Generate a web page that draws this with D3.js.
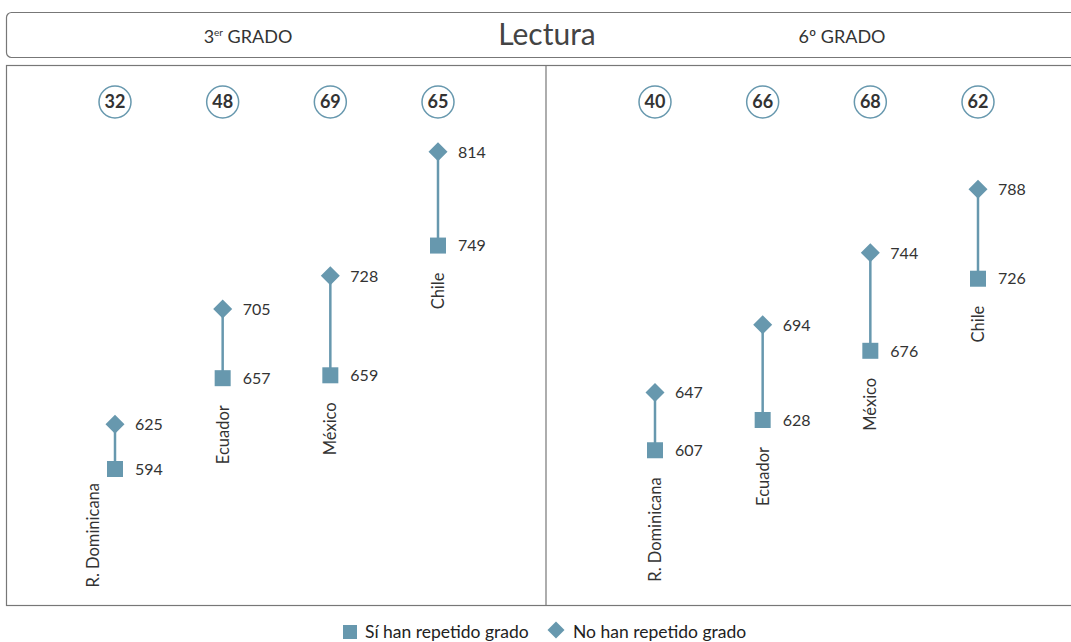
<!DOCTYPE html>
<html>
<head>
<meta charset="utf-8">
<script src="https://cdn.jsdelivr.net/npm/d3@7"></script>
<style>
  body { margin: 0; background: #fff; }
  svg { font-family: Lato, "Open Sans", sans-serif; }
</style>
</head>
<body>
<div id="chart"></div>
<script>
(function () {

    // data
    var countries = ["R. Dominicana", "Ecuador", "México", "Chile"];
    var grades = ["3er", "6º"];
    var circleValues3 = [32, 48, 69, 65];
    var circleValues6 = [40, 66, 68, 62];
    var repeated3 = [594, 657, 659, 749];      // Sí han repetido grado
    var notRepeated3 = [625, 705, 728, 814];   // No han repetido grado
    var repeated6 = [607, 628, 676, 726];
    var notRepeated6 = [647, 694, 744, 788];

    var panels = [
        { circles: circleValues3, yes: repeated3, no: notRepeated3 },
        { circles: circleValues6, yes: repeated6, no: notRepeated6 }
    ];

    var width = 1071;
    var height = 642;
    var colour = "#6798ae";
    var textColour = "#333";
    var frameColour = "#777";

    var panelLeft = 6;
    var panelWidth = 540;
    var panelTop = 65;
    var panelBottom = 605;

    var svg = d3.select("#chart")
        .append("svg")
        .attr("width", width)
        .attr("height", height);

    // header box
    svg.append("rect")
        .attr("x", panelLeft + 0.5).attr("y", 12.5)
        .attr("width", 1100).attr("height", 45)
        .attr("rx", 5)
        .attr("fill", "none")
        .attr("stroke", frameColour)
        .attr("stroke-width", 1.2);

    svg.append("text")
        .attr("x", 547).attr("y", 45)
        .attr("text-anchor", "middle")
        .attr("font-size", 30)
        .attr("fill", "#444")
        .text("Lectura");

    // grade titles
    var gradeText = svg.selectAll(".grade")
        .data(grades)
        .enter()
        .append("text")
        .attr("class", "grade")
        .attr("x", function (d, i) { return 248 + i * 594; })
        .attr("y", 43)
        .attr("text-anchor", "middle")
        .attr("font-size", 18)
        .attr("fill", textColour);

    gradeText.each(function (d) {
        var t = d3.select(this);
        if (d == "3er") {
            t.append("tspan").text("3");
            t.append("tspan").attr("font-size", 10).attr("dy", -7).text("er");
            t.append("tspan").attr("dy", 7).text(" GRADO");
        } else {
            t.text(d + " GRADO");
        }
    });

    // main frame
    svg.append("rect")
        .attr("x", panelLeft + 0.5).attr("y", panelTop + 0.5)
        .attr("width", 1100).attr("height", panelBottom - panelTop)
        .attr("fill", "none")
        .attr("stroke", frameColour)
        .attr("stroke-width", 1.2);

    svg.append("line")
        .attr("x1", panelLeft + panelWidth).attr("x2", panelLeft + panelWidth)
        .attr("y1", panelTop).attr("y2", panelBottom)
        .attr("stroke", frameColour)
        .attr("stroke-width", 1.2);

    // scales
    var x = d3.scalePoint()
        .domain(countries)
        .range([109, 432]);

    var y = d3.scaleLinear()
        .domain([500, 900])
        .range([604.5, 27.9]);

    var diamond = "M0,-9.5L9.5,0L0,9.5L-9.5,0Z";

    panels.forEach(function (p, pi) {
        var g = svg.append("g")
            .attr("transform", "translate(" + (panelLeft + pi * panelWidth) + ",0)");

        var rows = countries.map(function (c, i) {
            return { country: c, circle: p.circles[i], yes: p.yes[i], no: p.no[i], i: i, panel: pi };
        });

        var item = g.selectAll(".item")
            .data(rows)
            .enter()
            .append("g")
            .attr("class", "item");

        // circled numbers
        item.append("circle")
            .attr("cx", function (d) { return x(d.country); })
            .attr("cy", 102)
            .attr("r", 16)
            .attr("fill", "#fff")
            .attr("stroke", colour)
            .attr("stroke-width", 1.5);

        item.append("text")
            .attr("x", function (d) { return x(d.country); })
            .attr("y", 102)
            .attr("dy", "0.36em")
            .attr("text-anchor", "middle")
            .attr("font-size", 18)
            .attr("font-weight", "bold")
            .attr("fill", textColour)
            .text(function (d) { return d.circle; });

        // connector
        item.append("line")
            .attr("x1", function (d) { return x(d.country); })
            .attr("x2", function (d) { return x(d.country); })
            .attr("y1", function (d) { return y(d.no); })
            .attr("y2", function (d) { return y(d.yes); })
            .attr("stroke", colour)
            .attr("stroke-width", 2.5);

        item.append("rect")
            .attr("x", function (d) { return x(d.country) - 8; })
            .attr("y", function (d) { return y(d.yes) - 8; })
            .attr("width", 16)
            .attr("height", 16)
            .attr("fill", colour);

        item.append("path")
            .attr("d", diamond)
            .attr("transform", function (d) { return "translate(" + x(d.country) + "," + y(d.no) + ")"; })
            .attr("fill", colour);

        // value labels
        item.append("text")
            .attr("x", function (d) { return x(d.country) + 20; })
            .attr("y", function (d) { return y(d.yes); })
            .attr("dy", "0.36em")
            .attr("font-size", 16)
            .attr("fill", textColour)
            .text(function (d) { return d.yes; });

        item.append("text")
            .attr("x", function (d) { return x(d.country) + 20; })
            .attr("y", function (d) { return y(d.no); })
            .attr("dy", "0.36em")
            .attr("font-size", 16)
            .attr("fill", textColour)
            .text(function (d) { return d.no; });

        // country names, rotated
        item.append("text")
            .attr("transform", function (d) {
                var cx = x(d.country);
                var top = y(d.yes) + 27;
                // first label of 3rd grade sits left of the marker
                if (d.panel == 0 && d.i == 0) {
                    cx = cx - 22;
                    top = y(d.yes) + 14;
                }
                return "translate(" + (cx + 6) + "," + top + ") rotate(-90)";
            })
            .attr("text-anchor", "end")
            .attr("font-size", 16.5)
            .attr("fill", textColour)
            .text(function (d) { return d.country; });
    });

    // legend
    var legend = svg.append("g").attr("class", "legend");

    legend.append("rect")
        .attr("x", 343).attr("y", 625)
        .attr("width", 14).attr("height", 14)
        .attr("fill", colour);

    legend.append("text")
        .attr("x", 365).attr("y", 638)
        .attr("font-size", 17.5)
        .attr("fill", "#222")
        .text("Sí han repetido grado");

    legend.append("path")
        .attr("d", "M0,-8.5L8.5,0L0,8.5L-8.5,0Z")
        .attr("transform", "translate(556,630)")
        .attr("fill", colour);

    legend.append("text")
        .attr("x", 573).attr("y", 638)
        .attr("font-size", 17.5)
        .attr("fill", "#222")
        .text("No han repetido grado");

})();
</script>
</body>
</html>
